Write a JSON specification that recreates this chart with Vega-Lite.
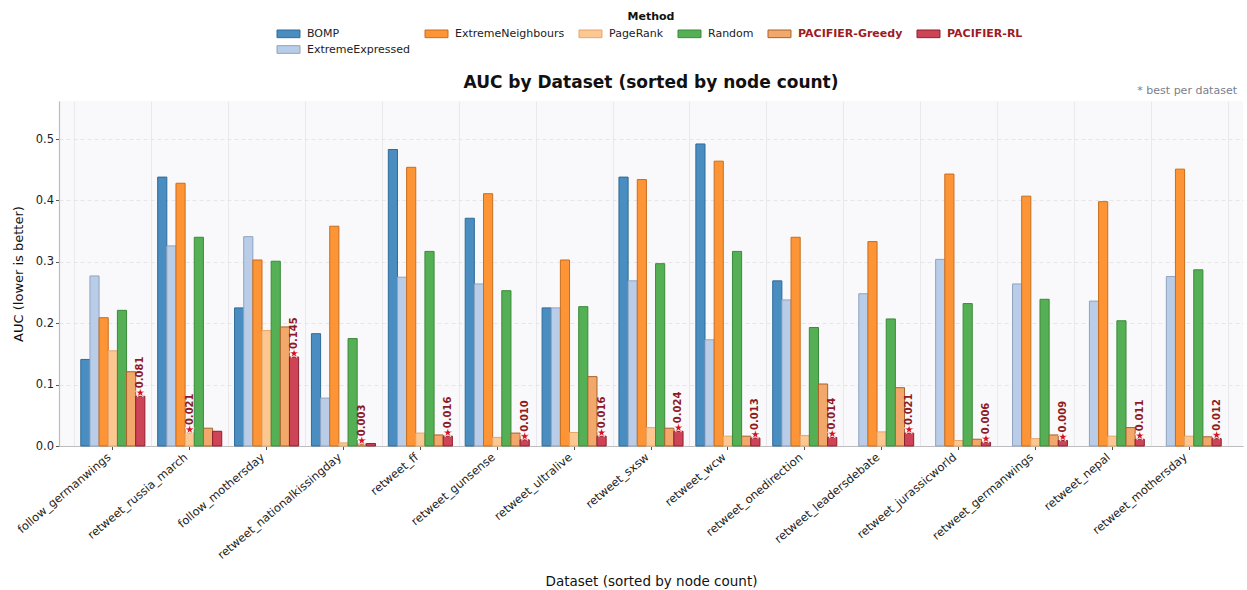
{
  "$schema": "https://vega.github.io/schema/vega-lite/v6.json",
  "width": 1184,
  "height": 345,
  "autosize": {"type": "none"},
  "padding": {"left": 59, "top": 101, "right": 4, "bottom": 144},
  "background": "white",
  "config": {
    "font": "DejaVu Sans",
    "view": {"fill": "#f9f9fb", "stroke": null},
    "axis": {
      "labelFont": "DejaVu Sans",
      "titleFont": "DejaVu Sans",
      "labelColor": "#222222",
      "titleColor": "#111111",
      "titleFontWeight": "normal",
      "domainColor": "#bdbdbd",
      "domainWidth": 1.2,
      "tickColor": "#555555",
      "tickSize": 3.5
    },
    "legend": {
      "symbolType": "M-1.5,-0.5H1.5V0.5H-1.5Z",
      "symbolSize": 235,
      "symbolStrokeWidth": 1,
      "symbolOpacity": 1,
      "labelFont": "DejaVu Sans",
      "labelFontSize": 11,
      "labelOffset": 10,
      "labelLimit": 300,
      "labelColor": "#222222",
      "titleFont": "DejaVu Sans",
      "titleFontSize": 11,
      "titleFontWeight": "bold",
      "titleAnchor": "middle",
      "titleColor": "#111111",
      "titlePadding": 3,
      "columnPadding": 12,
      "rowPadding": 1,
      "padding": 0
    }
  },
  "title": {
    "text": "AUC by Dataset (sorted by node count)",
    "anchor": "middle",
    "font": "DejaVu Sans",
    "fontSize": 17,
    "fontWeight": "bold",
    "color": "#111111",
    "offset": -81
  },
  "datasets": {
    "auc": [
      {"d": "follow_germanwings", "m": "BOMP", "v": 0.141},
      {"d": "follow_germanwings", "m": "ExtremeExpressed", "v": 0.277},
      {"d": "follow_germanwings", "m": "ExtremeNeighbours", "v": 0.209},
      {"d": "follow_germanwings", "m": "PageRank", "v": 0.155},
      {"d": "follow_germanwings", "m": "Random", "v": 0.221},
      {"d": "follow_germanwings", "m": "PACIFIER-Greedy", "v": 0.121},
      {"d": "follow_germanwings", "m": "PACIFIER-RL", "v": 0.081, "best": 1},

      {"d": "retweet_russia_march", "m": "BOMP", "v": 0.438},
      {"d": "retweet_russia_march", "m": "ExtremeExpressed", "v": 0.326},
      {"d": "retweet_russia_march", "m": "ExtremeNeighbours", "v": 0.428},
      {"d": "retweet_russia_march", "m": "PageRank", "v": 0.021, "best": 1},
      {"d": "retweet_russia_march", "m": "Random", "v": 0.340},
      {"d": "retweet_russia_march", "m": "PACIFIER-Greedy", "v": 0.029},
      {"d": "retweet_russia_march", "m": "PACIFIER-RL", "v": 0.024},

      {"d": "follow_mothersday", "m": "BOMP", "v": 0.225},
      {"d": "follow_mothersday", "m": "ExtremeExpressed", "v": 0.341},
      {"d": "follow_mothersday", "m": "ExtremeNeighbours", "v": 0.303},
      {"d": "follow_mothersday", "m": "PageRank", "v": 0.188},
      {"d": "follow_mothersday", "m": "Random", "v": 0.301},
      {"d": "follow_mothersday", "m": "PACIFIER-Greedy", "v": 0.194},
      {"d": "follow_mothersday", "m": "PACIFIER-RL", "v": 0.145, "best": 1},

      {"d": "retweet_nationalkissingday", "m": "BOMP", "v": 0.183},
      {"d": "retweet_nationalkissingday", "m": "ExtremeExpressed", "v": 0.078},
      {"d": "retweet_nationalkissingday", "m": "ExtremeNeighbours", "v": 0.358},
      {"d": "retweet_nationalkissingday", "m": "PageRank", "v": 0.005},
      {"d": "retweet_nationalkissingday", "m": "Random", "v": 0.175},
      {"d": "retweet_nationalkissingday", "m": "PACIFIER-Greedy", "v": 0.003, "best": 1},
      {"d": "retweet_nationalkissingday", "m": "PACIFIER-RL", "v": 0.004},

      {"d": "retweet_ff", "m": "BOMP", "v": 0.483},
      {"d": "retweet_ff", "m": "ExtremeExpressed", "v": 0.275},
      {"d": "retweet_ff", "m": "ExtremeNeighbours", "v": 0.454},
      {"d": "retweet_ff", "m": "PageRank", "v": 0.021},
      {"d": "retweet_ff", "m": "Random", "v": 0.317},
      {"d": "retweet_ff", "m": "PACIFIER-Greedy", "v": 0.018},
      {"d": "retweet_ff", "m": "PACIFIER-RL", "v": 0.016, "best": 1},

      {"d": "retweet_gunsense", "m": "BOMP", "v": 0.371},
      {"d": "retweet_gunsense", "m": "ExtremeExpressed", "v": 0.264},
      {"d": "retweet_gunsense", "m": "ExtremeNeighbours", "v": 0.411},
      {"d": "retweet_gunsense", "m": "PageRank", "v": 0.014},
      {"d": "retweet_gunsense", "m": "Random", "v": 0.253},
      {"d": "retweet_gunsense", "m": "PACIFIER-Greedy", "v": 0.021},
      {"d": "retweet_gunsense", "m": "PACIFIER-RL", "v": 0.010, "best": 1},

      {"d": "retweet_ultralive", "m": "BOMP", "v": 0.225},
      {"d": "retweet_ultralive", "m": "ExtremeExpressed", "v": 0.225},
      {"d": "retweet_ultralive", "m": "ExtremeNeighbours", "v": 0.303},
      {"d": "retweet_ultralive", "m": "PageRank", "v": 0.022},
      {"d": "retweet_ultralive", "m": "Random", "v": 0.227},
      {"d": "retweet_ultralive", "m": "PACIFIER-Greedy", "v": 0.113},
      {"d": "retweet_ultralive", "m": "PACIFIER-RL", "v": 0.016, "best": 1},

      {"d": "retweet_sxsw", "m": "BOMP", "v": 0.438},
      {"d": "retweet_sxsw", "m": "ExtremeExpressed", "v": 0.269},
      {"d": "retweet_sxsw", "m": "ExtremeNeighbours", "v": 0.434},
      {"d": "retweet_sxsw", "m": "PageRank", "v": 0.030},
      {"d": "retweet_sxsw", "m": "Random", "v": 0.297},
      {"d": "retweet_sxsw", "m": "PACIFIER-Greedy", "v": 0.029},
      {"d": "retweet_sxsw", "m": "PACIFIER-RL", "v": 0.024, "best": 1},

      {"d": "retweet_wcw", "m": "BOMP", "v": 0.492},
      {"d": "retweet_wcw", "m": "ExtremeExpressed", "v": 0.173},
      {"d": "retweet_wcw", "m": "ExtremeNeighbours", "v": 0.464},
      {"d": "retweet_wcw", "m": "PageRank", "v": 0.016},
      {"d": "retweet_wcw", "m": "Random", "v": 0.317},
      {"d": "retweet_wcw", "m": "PACIFIER-Greedy", "v": 0.016},
      {"d": "retweet_wcw", "m": "PACIFIER-RL", "v": 0.013, "best": 1},

      {"d": "retweet_onedirection", "m": "BOMP", "v": 0.269},
      {"d": "retweet_onedirection", "m": "ExtremeExpressed", "v": 0.238},
      {"d": "retweet_onedirection", "m": "ExtremeNeighbours", "v": 0.340},
      {"d": "retweet_onedirection", "m": "PageRank", "v": 0.017},
      {"d": "retweet_onedirection", "m": "Random", "v": 0.193},
      {"d": "retweet_onedirection", "m": "PACIFIER-Greedy", "v": 0.101},
      {"d": "retweet_onedirection", "m": "PACIFIER-RL", "v": 0.014, "best": 1},

      {"d": "retweet_leadersdebate", "m": "ExtremeExpressed", "v": 0.248},
      {"d": "retweet_leadersdebate", "m": "ExtremeNeighbours", "v": 0.333},
      {"d": "retweet_leadersdebate", "m": "PageRank", "v": 0.023},
      {"d": "retweet_leadersdebate", "m": "Random", "v": 0.207},
      {"d": "retweet_leadersdebate", "m": "PACIFIER-Greedy", "v": 0.095},
      {"d": "retweet_leadersdebate", "m": "PACIFIER-RL", "v": 0.021, "best": 1},

      {"d": "retweet_jurassicworld", "m": "ExtremeExpressed", "v": 0.304},
      {"d": "retweet_jurassicworld", "m": "ExtremeNeighbours", "v": 0.443},
      {"d": "retweet_jurassicworld", "m": "PageRank", "v": 0.009},
      {"d": "retweet_jurassicworld", "m": "Random", "v": 0.232},
      {"d": "retweet_jurassicworld", "m": "PACIFIER-Greedy", "v": 0.011},
      {"d": "retweet_jurassicworld", "m": "PACIFIER-RL", "v": 0.006, "best": 1},

      {"d": "retweet_germanwings", "m": "ExtremeExpressed", "v": 0.264},
      {"d": "retweet_germanwings", "m": "ExtremeNeighbours", "v": 0.407},
      {"d": "retweet_germanwings", "m": "PageRank", "v": 0.012},
      {"d": "retweet_germanwings", "m": "Random", "v": 0.239},
      {"d": "retweet_germanwings", "m": "PACIFIER-Greedy", "v": 0.018},
      {"d": "retweet_germanwings", "m": "PACIFIER-RL", "v": 0.009, "best": 1},

      {"d": "retweet_nepal", "m": "ExtremeExpressed", "v": 0.236},
      {"d": "retweet_nepal", "m": "ExtremeNeighbours", "v": 0.398},
      {"d": "retweet_nepal", "m": "PageRank", "v": 0.016},
      {"d": "retweet_nepal", "m": "Random", "v": 0.204},
      {"d": "retweet_nepal", "m": "PACIFIER-Greedy", "v": 0.030},
      {"d": "retweet_nepal", "m": "PACIFIER-RL", "v": 0.011, "best": 1},

      {"d": "retweet_mothersday", "m": "ExtremeExpressed", "v": 0.276},
      {"d": "retweet_mothersday", "m": "ExtremeNeighbours", "v": 0.451},
      {"d": "retweet_mothersday", "m": "PageRank", "v": 0.016},
      {"d": "retweet_mothersday", "m": "Random", "v": 0.287},
      {"d": "retweet_mothersday", "m": "PACIFIER-Greedy", "v": 0.015},
      {"d": "retweet_mothersday", "m": "PACIFIER-RL", "v": 0.012, "best": 1}
    ]
  },
  "layer": [
    {
      "data": {"name": "auc"},
      "mark": {"type": "bar", "strokeWidth": 1, "opacity": 1},
      "encoding": {
        "x": {
          "field": "d",
          "type": "nominal",
          "sort": ["follow_germanwings", "retweet_russia_march", "follow_mothersday", "retweet_nationalkissingday", "retweet_ff", "retweet_gunsense", "retweet_ultralive", "retweet_sxsw", "retweet_wcw", "retweet_onedirection", "retweet_leadersdebate", "retweet_jurassicworld", "retweet_germanwings", "retweet_nepal", "retweet_mothersday"],
          "scale": {"paddingInner": 0, "paddingOuter": 0.2},
          "title": "Dataset (sorted by node count)",
          "axis": {
            "orient": "bottom",
            "grid": false,
            "labelAngle": -40,
            "labelAlign": "right",
            "labelBaseline": "bottom",
            "labelFontSize": 11.5,
            "labelPadding": 10,
            "labelLimit": 300,
            "titleFontSize": 13.5,
            "titleY": 135,
            "titleBaseline": "middle"
          }
        },
        "xOffset": {
          "field": "m",
          "type": "nominal",
          "sort": ["BOMP", "ExtremeExpressed", "ExtremeNeighbours", "PageRank", "Random", "PACIFIER-Greedy", "PACIFIER-RL"],
          "scale": {"paddingInner": 0, "paddingOuter": 0.7}
        },
        "y": {
          "field": "v",
          "type": "quantitative",
          "scale": {"domain": [0, 0.562], "nice": false},
          "title": "AUC (lower is better)",
          "axis": {
            "values": [0, 0.1, 0.2, 0.3, 0.4, 0.5],
            "format": ".1f",
            "grid": true,
            "gridColor": "#e3e3e6",
            "gridDash": [4, 3],
            "gridWidth": 0.9,
            "labelFontSize": 11.5,
            "titleFontSize": 13,
            "titleX": -41,
            "titleBaseline": "middle"
          }
        },
        "fill": {
          "field": "m",
          "type": "nominal",
          "title": "Method",
          "scale": {
            "domain": ["BOMP", "ExtremeNeighbours", "PageRank", "Random", "PACIFIER-Greedy", "PACIFIER-RL", "ExtremeExpressed"],
            "range": ["#4a8dc0", "#fd9536", "#fdc792", "#55b055", "#f2a86a", "#cd4457", "#b9cde9"]
          },
          "legend": {
            "orient": "none",
            "legendX": 221,
            "legendY": -90,
            "direction": "horizontal",
            "columns": 6,
            "encode": {
              "labels": {
                "update": {
                  "fill": [{"test": "indexof(datum.label, 'PACIFIER') >= 0", "value": "#9e1b23"}, {"value": "#222222"}],
                  "fontWeight": [{"test": "indexof(datum.label, 'PACIFIER') >= 0", "value": "bold"}, {"value": "normal"}]
                }
              }
            }
          }
        },
        "stroke": {
          "field": "m",
          "type": "nominal",
          "title": "Method",
          "scale": {
            "domain": ["BOMP", "ExtremeNeighbours", "PageRank", "Random", "PACIFIER-Greedy", "PACIFIER-RL", "ExtremeExpressed"],
            "range": ["#2f6b99", "#c96d1c", "#e6a66c", "#3a8a3a", "#a9622c", "#8e1f30", "#8fa3c0"]
          },
          "legend": {
            "orient": "none",
            "legendX": 221,
            "legendY": -90,
            "direction": "horizontal",
            "columns": 6,
            "encode": {
              "labels": {
                "update": {
                  "fill": [{"test": "indexof(datum.label, 'PACIFIER') >= 0", "value": "#9e1b23"}, {"value": "#222222"}],
                  "fontWeight": [{"test": "indexof(datum.label, 'PACIFIER') >= 0", "value": "bold"}, {"value": "normal"}]
                }
              }
            }
          }
        }
      }
    },
    {
      "data": {"name": "auc"},
      "transform": [{"filter": "datum.best == 1"}],
      "mark": {
        "type": "point",
        "shape": "M0,-1.7L0.225,-1.009L0.951,-1.009L0.363,-0.582L0.588,0.109L0,-0.318L-0.588,0.109L-0.363,-0.582L-0.951,-1.009L-0.225,-1.009Z",
        "filled": true,
        "size": 100,
        "fill": "#d8101e",
        "stroke": "white",
        "strokeWidth": 0.7,
        "opacity": 1
      },
      "encoding": {
        "x": {
          "field": "d",
          "type": "nominal",
          "sort": ["follow_germanwings", "retweet_russia_march", "follow_mothersday", "retweet_nationalkissingday", "retweet_ff", "retweet_gunsense", "retweet_ultralive", "retweet_sxsw", "retweet_wcw", "retweet_onedirection", "retweet_leadersdebate", "retweet_jurassicworld", "retweet_germanwings", "retweet_nepal", "retweet_mothersday"],
          "axis": {
            "orient": "top",
            "grid": true,
            "tickBand": "extent",
            "gridColor": "#e9e9ed",
            "gridWidth": 1,
            "labels": false,
            "ticks": false,
            "domain": false,
            "title": null
          }
        },
        "xOffset": {
          "field": "m",
          "type": "nominal",
          "sort": ["BOMP", "ExtremeExpressed", "ExtremeNeighbours", "PageRank", "Random", "PACIFIER-Greedy", "PACIFIER-RL"]
        },
        "y": {"field": "v", "type": "quantitative"}
      }
    },
    {
      "data": {"name": "auc"},
      "transform": [{"filter": "datum.best == 1"}],
      "mark": {
        "type": "text",
        "angle": 270,
        "align": "left",
        "baseline": "middle",
        "dx": 8,
        "font": "DejaVu Sans",
        "fontSize": 10,
        "fontWeight": "bold",
        "fill": "#8e1a22"
      },
      "encoding": {
        "x": {
          "field": "d",
          "type": "nominal",
          "sort": ["follow_germanwings", "retweet_russia_march", "follow_mothersday", "retweet_nationalkissingday", "retweet_ff", "retweet_gunsense", "retweet_ultralive", "retweet_sxsw", "retweet_wcw", "retweet_onedirection", "retweet_leadersdebate", "retweet_jurassicworld", "retweet_germanwings", "retweet_nepal", "retweet_mothersday"],
          "axis": null
        },
        "xOffset": {
          "field": "m",
          "type": "nominal",
          "sort": ["BOMP", "ExtremeExpressed", "ExtremeNeighbours", "PageRank", "Random", "PACIFIER-Greedy", "PACIFIER-RL"]
        },
        "y": {"field": "v", "type": "quantitative"},
        "text": {"field": "v", "type": "quantitative", "format": ".3f"}
      }
    },
    {
      "data": {"values": [{"note": "* best per dataset"}]},
      "mark": {
        "type": "text",
        "align": "right",
        "baseline": "middle",
        "dx": -6,
        "font": "DejaVu Sans",
        "fontSize": 11,
        "fill": "#7a808c"
      },
      "encoding": {
        "x": {"value": "width"},
        "y": {"value": -10},
        "text": {"field": "note", "type": "nominal"}
      }
    }
  ],
  "resolve": {"axis": {"x": "independent"}}
}
